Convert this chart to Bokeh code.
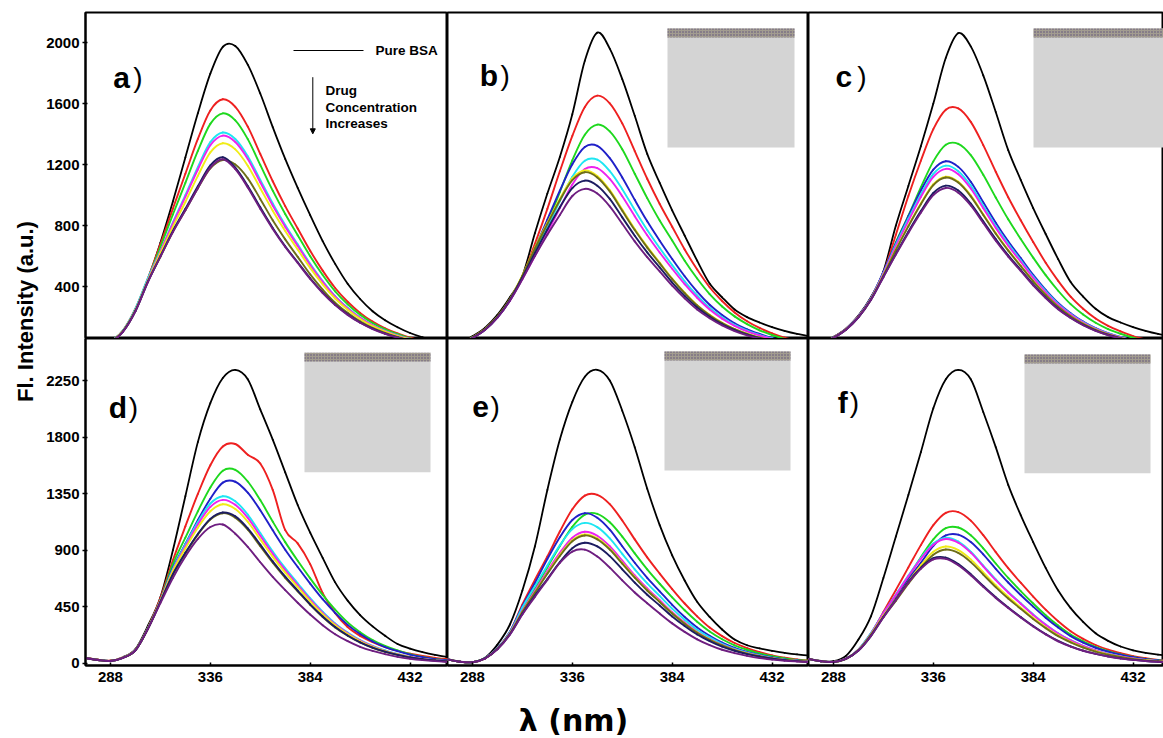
import math
from bokeh.plotting import figure
from bokeh.layouts import row, column
from bokeh.models import Range1d, Label, BoxAnnotation, Arrow, NormalHead, ColumnDataSource
from bokeh.embed import file_html
from bokeh.resources import INLINE

# ---------------- data ----------------
wavelengths = [276, 282, 288, 294, 300, 306, 312, 318, 324, 330, 336, 342, 348, 354, 360,
               366, 372, 378, 384, 390, 396, 402, 408, 414, 420, 426, 432, 438, 444, 450]

x_ticks = [288, 336, 384, 432]
top_y_ticks = [400, 800, 1200, 1600, 2000]
bottom_y_ticks = [0, 450, 900, 1350, 1800, 2250]

# panel a
a_black = [4, 14, 40, 110, 249, 449, 688, 958, 1247, 1536, 1796, 1972, 1978, 1855, 1666, 1446, 1237, 1047, 868, 698, 549, 419, 319, 239, 180, 134, 96, 68, 48, 34]
a_red = [4, 14, 40, 112, 255, 455, 678, 911, 1140, 1368, 1555, 1628, 1579, 1449, 1270, 1091, 928, 781, 635, 505, 391, 301, 228, 171, 127, 93, 65, 46, 33, 23]
a_green = [4, 14, 40, 110, 252, 450, 659, 873, 1080, 1290, 1467, 1536, 1490, 1367, 1198, 1029, 876, 737, 599, 476, 369, 284, 215, 161, 120, 88, 61, 43, 31, 22]
a_cyan = [4, 14, 41, 112, 256, 455, 633, 821, 1000, 1184, 1347, 1410, 1368, 1255, 1100, 945, 804, 677, 550, 437, 338, 261, 197, 148, 110, 80, 56, 39, 28, 20]
a_magenta = [4, 14, 39, 108, 247, 443, 629, 813, 988, 1168, 1327, 1390, 1348, 1237, 1084, 931, 792, 667, 542, 431, 334, 257, 195, 146, 108, 79, 56, 39, 28, 19]
a_yellow = [4, 14, 39, 108, 245, 440, 619, 792, 955, 1126, 1280, 1340, 1300, 1193, 1045, 898, 764, 643, 523, 415, 322, 248, 188, 141, 105, 76, 54, 38, 27, 19]
a_olive = [4, 14, 38, 106, 242, 435, 596, 760, 900, 1045, 1175, 1230, 1200, 1110, 975, 835, 710, 595, 480, 381, 295, 228, 172, 129, 96, 70, 49, 34, 25, 17]
a_navy = [4, 13, 38, 105, 240, 432, 600, 765, 910, 1058, 1195, 1248, 1180, 1060, 920, 785, 665, 560, 455, 362, 282, 218, 165, 124, 92, 67, 47, 33, 24, 17]
a_purple = [4, 13, 37, 104, 238, 430, 597, 757, 900, 1045, 1180, 1235, 1170, 1050, 910, 778, 660, 555, 450, 358, 279, 215, 163, 122, 91, 66, 46, 32, 23, 16]

# panel b
b_black = [10, 30, 75, 130, 215, 330, 470, 750, 1010, 1250, 1530, 1880, 2065, 1960, 1760, 1520, 1270, 1080, 900, 735, 570, 420, 330, 250, 200, 165, 135, 110, 90, 75]
b_red = [8, 26, 68, 122, 203, 315, 466, 680, 910, 1156, 1388, 1578, 1652, 1602, 1470, 1289, 1107, 942, 793, 644, 512, 396, 306, 231, 173, 129, 94, 66, 46, 33]
b_green = [8, 26, 67, 120, 200, 312, 455, 625, 815, 1020, 1228, 1396, 1462, 1418, 1301, 1140, 980, 833, 702, 570, 453, 351, 270, 205, 154, 114, 83, 58, 41, 29]
b_blue = [8, 25, 66, 119, 200, 312, 466, 650, 840, 1029, 1202, 1316, 1323, 1242, 1116, 969, 828, 701, 581, 468, 367, 281, 214, 160, 120, 90, 64, 45, 32, 23]
b_cyan = [8, 25, 66, 118, 198, 310, 455, 615, 785, 960, 1120, 1225, 1232, 1157, 1039, 902, 771, 653, 541, 435, 342, 261, 199, 149, 112, 83, 60, 42, 30, 21]
b_magenta = [8, 25, 65, 118, 197, 308, 450, 600, 755, 915, 1070, 1171, 1177, 1106, 993, 862, 737, 624, 517, 416, 327, 250, 190, 143, 107, 80, 57, 40, 29, 20]
b_yellow = [8, 25, 66, 120, 202, 318, 473, 655, 818, 975, 1109, 1161, 1126, 1033, 906, 778, 662, 557, 453, 360, 279, 215, 163, 122, 91, 66, 46, 33, 23, 16]
b_olive = [8, 25, 66, 120, 202, 318, 471, 650, 810, 966, 1098, 1150, 1116, 1024, 897, 771, 656, 552, 449, 357, 276, 213, 161, 121, 90, 66, 46, 32, 23, 16]
b_navy = [7, 24, 64, 117, 198, 312, 460, 620, 775, 920, 1046, 1095, 1062, 975, 854, 734, 624, 526, 427, 339, 263, 203, 153, 115, 85, 62, 44, 31, 22, 15]
b_purple = [7, 24, 63, 116, 196, 308, 449, 600, 740, 870, 994, 1041, 1010, 926, 812, 697, 593, 500, 406, 323, 250, 193, 146, 109, 81, 59, 42, 29, 21, 15]

# panel c
c_black = [10, 28, 70, 125, 210, 330, 500, 800, 1060, 1320, 1600, 1900, 2062, 1975, 1785, 1545, 1295, 1100, 915, 745, 580, 430, 335, 255, 200, 165, 135, 110, 90, 75]
c_red = [9, 27, 68, 122, 205, 322, 490, 740, 994, 1225, 1432, 1560, 1568, 1480, 1328, 1153, 986, 835, 692, 557, 438, 334, 255, 191, 143, 107, 76, 54, 38, 27]
c_green = [9, 27, 67, 121, 203, 318, 480, 690, 865, 1050, 1221, 1330, 1336, 1262, 1133, 984, 841, 712, 590, 475, 373, 285, 217, 163, 122, 91, 65, 46, 33, 23]
c_blue = [8, 26, 67, 122, 206, 325, 495, 685, 860, 1030, 1167, 1222, 1185, 1088, 953, 819, 697, 587, 477, 379, 293, 226, 171, 128, 95, 70, 49, 34, 24, 17]
c_cyan = [8, 26, 66, 121, 204, 322, 490, 675, 845, 1005, 1139, 1193, 1157, 1062, 931, 799, 680, 573, 465, 370, 286, 221, 167, 125, 93, 68, 48, 33, 24, 17]
c_magenta = [8, 26, 66, 120, 203, 320, 485, 665, 830, 988, 1119, 1172, 1137, 1043, 914, 785, 668, 563, 457, 363, 281, 217, 164, 123, 91, 67, 47, 33, 23, 16]
c_yellow = [8, 25, 65, 119, 201, 318, 475, 645, 800, 945, 1071, 1121, 1087, 998, 874, 751, 639, 538, 437, 348, 269, 207, 157, 118, 87, 64, 45, 31, 22, 16]
c_olive = [8, 25, 65, 119, 200, 316, 472, 640, 795, 940, 1065, 1115, 1082, 992, 870, 747, 636, 535, 435, 346, 268, 206, 156, 117, 87, 64, 45, 31, 22, 16]
c_navy = [8, 25, 64, 118, 199, 314, 465, 615, 760, 895, 1014, 1062, 1030, 945, 828, 712, 605, 510, 414, 329, 255, 196, 149, 112, 83, 61, 42, 30, 21, 15]
c_purple = [8, 25, 64, 117, 198, 312, 462, 610, 752, 884, 1000, 1047, 1016, 932, 817, 701, 597, 503, 408, 325, 251, 194, 147, 110, 82, 60, 42, 29, 21, 15]

# panel d
d_black = [45, 30, 22, 50, 115, 300, 527, 900, 1330, 1760, 2070, 2270, 2335, 2260, 2020, 1780, 1520, 1260, 1040, 840, 645, 500, 385, 295, 220, 155, 118, 90, 68, 52]
d_red = [45, 30, 22, 48, 110, 285, 520, 820, 1090, 1348, 1576, 1725, 1745, 1660, 1590, 1380, 1060, 955, 790, 560, 400, 290, 220, 170, 130, 100, 78, 60, 45, 35]
d_green = [44, 29, 21, 47, 108, 282, 505, 790, 1000, 1210, 1400, 1533, 1540, 1447, 1299, 1128, 965, 817, 677, 545, 428, 327, 249, 187, 140, 104, 75, 53, 37, 26]
d_blue = [44, 29, 21, 47, 107, 280, 500, 760, 950, 1140, 1310, 1438, 1445, 1358, 1219, 1059, 905, 767, 635, 511, 402, 307, 234, 175, 131, 98, 70, 50, 35, 25]
d_cyan = [43, 28, 20, 46, 106, 280, 500, 750, 945, 1125, 1272, 1330, 1290, 1184, 1037, 891, 758, 638, 519, 412, 319, 246, 186, 140, 104, 76, 53, 37, 27, 19]
d_magenta = [43, 28, 20, 46, 106, 279, 498, 740, 930, 1105, 1245, 1301, 1262, 1158, 1015, 872, 742, 624, 507, 403, 312, 241, 182, 137, 101, 74, 52, 36, 26, 18]
d_yellow = [43, 28, 20, 46, 105, 278, 495, 735, 915, 1080, 1210, 1266, 1228, 1127, 987, 848, 722, 608, 494, 392, 304, 234, 177, 133, 99, 72, 51, 35, 25, 18]
d_olive = [43, 28, 20, 45, 105, 276, 490, 705, 875, 1025, 1145, 1195, 1159, 1064, 932, 801, 681, 574, 466, 370, 287, 221, 167, 125, 93, 68, 48, 33, 24, 17]
d_navy = [43, 28, 20, 45, 104, 276, 490, 710, 880, 1030, 1150, 1200, 1170, 1075, 945, 812, 690, 580, 470, 374, 290, 223, 168, 126, 94, 69, 48, 34, 24, 17]
d_purple = [43, 28, 20, 45, 104, 275, 480, 680, 850, 990, 1085, 1105, 1032, 927, 805, 688, 583, 483, 389, 305, 233, 178, 133, 100, 74, 53, 38, 27, 19, 13]

# panel e
e_black = [35, 15, 10, 45, 150, 310, 580, 930, 1380, 1780, 2080, 2280, 2335, 2250, 2010, 1720, 1390, 1100, 860, 660, 490, 370, 270, 190, 145, 120, 100, 85, 72, 62]
e_red = [33, 14, 10, 40, 120, 250, 470, 665, 851, 1049, 1226, 1335, 1341, 1267, 1137, 987, 844, 715, 592, 477, 375, 286, 218, 163, 123, 91, 65, 46, 33, 23]
e_green = [33, 14, 10, 40, 118, 245, 425, 595, 765, 935, 1087, 1184, 1190, 1123, 1009, 876, 749, 634, 525, 423, 332, 254, 193, 145, 109, 81, 58, 41, 29, 21]
e_blue = [33, 14, 10, 42, 122, 252, 455, 640, 830, 1004, 1141, 1195, 1159, 1064, 932, 801, 681, 574, 466, 370, 287, 221, 167, 125, 93, 68, 48, 33, 24, 17]
e_cyan = [33, 14, 10, 42, 120, 248, 445, 615, 780, 939, 1068, 1118, 1084, 995, 872, 749, 637, 537, 436, 347, 268, 207, 157, 117, 87, 64, 45, 31, 22, 16]
e_magenta = [33, 14, 10, 41, 118, 242, 420, 578, 733, 879, 1000, 1047, 1016, 932, 817, 701, 597, 503, 408, 325, 251, 194, 147, 110, 82, 60, 42, 29, 21, 15]
e_yellow = [33, 14, 10, 40, 116, 238, 412, 565, 718, 862, 980, 1026, 995, 913, 800, 687, 585, 492, 400, 318, 246, 190, 144, 108, 80, 58, 41, 29, 21, 14]
e_olive = [33, 14, 10, 40, 116, 236, 410, 562, 713, 855, 972, 1018, 987, 906, 794, 682, 580, 489, 397, 316, 244, 188, 143, 107, 79, 58, 41, 29, 20, 14]
e_navy = [33, 14, 10, 40, 114, 232, 395, 540, 672, 806, 917, 960, 931, 854, 749, 643, 547, 461, 374, 298, 230, 178, 134, 101, 75, 55, 38, 27, 19, 13]
e_purple = [33, 14, 10, 39, 112, 228, 390, 530, 665, 800, 890, 905, 850, 762, 661, 565, 479, 397, 319, 251, 192, 146, 109, 82, 61, 44, 31, 22, 16, 11]

# panel f
f_black = [38, 20, 18, 60, 190, 375, 680, 1010, 1340, 1680, 2030, 2260, 2335, 2260, 2000, 1720, 1420, 1180, 965, 760, 580, 440, 330, 240, 180, 135, 105, 84, 70, 60]
f_red = [36, 18, 12, 38, 110, 230, 410, 585, 764, 941, 1100, 1198, 1204, 1136, 1020, 886, 758, 642, 532, 428, 336, 257, 196, 147, 110, 82, 59, 42, 29, 21]
f_green = [36, 18, 12, 37, 105, 220, 378, 527, 686, 845, 987, 1076, 1081, 1020, 916, 795, 680, 576, 477, 384, 302, 230, 176, 132, 99, 73, 53, 37, 26, 19]
f_blue = [36, 18, 12, 38, 110, 240, 400, 540, 670, 800, 935, 1018, 1024, 966, 868, 753, 644, 545, 452, 364, 286, 218, 166, 125, 94, 70, 50, 35, 25, 18]
f_cyan = [36, 18, 12, 38, 110, 240, 400, 549, 699, 839, 954, 999, 969, 889, 779, 669, 569, 480, 390, 310, 240, 185, 140, 105, 78, 57, 40, 28, 20, 14]
f_magenta = [36, 18, 12, 38, 108, 235, 400, 545, 693, 832, 945, 990, 960, 881, 772, 663, 564, 475, 386, 307, 238, 183, 139, 104, 77, 56, 40, 28, 20, 14]
f_yellow = [36, 18, 12, 37, 106, 230, 381, 512, 651, 781, 888, 930, 902, 828, 725, 623, 530, 446, 363, 288, 223, 172, 130, 98, 73, 53, 37, 26, 19, 13]
f_olive = [36, 18, 12, 37, 105, 228, 371, 498, 634, 761, 865, 906, 879, 806, 707, 607, 516, 435, 353, 281, 217, 168, 127, 95, 71, 52, 36, 25, 18, 13]
f_navy = [36, 18, 12, 36, 103, 220, 370, 510, 650, 760, 837, 842, 791, 710, 616, 527, 446, 370, 298, 234, 179, 136, 102, 77, 57, 41, 29, 20, 14, 10]
f_purple = [36, 18, 12, 36, 102, 218, 365, 505, 642, 752, 827, 832, 781, 701, 609, 521, 441, 365, 294, 231, 176, 134, 101, 76, 56, 40, 29, 20, 14, 10]

COLORS = {
    "black": "#000000", "red": "#ee2020", "green": "#1ed81e", "blue": "#2020c8",
    "cyan": "#1ee6f2", "magenta": "#ee22ee", "yellow": "#f0ec18", "olive": "#6e6e18",
    "navy": "#1c1c60", "purple": "#6e1e80",
}

panel_series = {
    "a": [("black", a_black), ("red", a_red), ("green", a_green), ("cyan", a_cyan), ("magenta", a_magenta),
          ("yellow", a_yellow), ("olive", a_olive), ("navy", a_navy), ("purple", a_purple)],
    "b": [("black", b_black), ("red", b_red), ("green", b_green), ("blue", b_blue), ("cyan", b_cyan),
          ("magenta", b_magenta), ("yellow", b_yellow), ("olive", b_olive), ("navy", b_navy), ("purple", b_purple)],
    "c": [("black", c_black), ("red", c_red), ("green", c_green), ("blue", c_blue), ("cyan", c_cyan),
          ("magenta", c_magenta), ("yellow", c_yellow), ("olive", c_olive), ("navy", c_navy), ("purple", c_purple)],
    "d": [("black", d_black), ("red", d_red), ("green", d_green), ("blue", d_blue), ("cyan", d_cyan),
          ("magenta", d_magenta), ("yellow", d_yellow), ("olive", d_olive), ("navy", d_navy), ("purple", d_purple)],
    "e": [("black", e_black), ("red", e_red), ("green", e_green), ("blue", e_blue), ("cyan", e_cyan),
          ("magenta", e_magenta), ("yellow", e_yellow), ("olive", e_olive), ("navy", e_navy), ("purple", e_purple)],
    "f": [("black", f_black), ("red", f_red), ("green", f_green), ("blue", f_blue), ("cyan", f_cyan),
          ("magenta", f_magenta), ("yellow", f_yellow), ("olive", f_olive), ("navy", f_navy), ("purple", f_purple)],
}

# ---------------- layout constants ----------------
PX_PER_NM = 2.0805
X0 = 276
TOP_Y = (60, 2197)
BOT_Y = (-16, 2584)
FONT = "Liberation Sans"
BOTTOM_BORDER = 36


def smooth_segments(xs, ys):
    """Catmull-Rom segments expressed as cubic Bezier pieces that pass through every data point."""
    n = len(xs)
    out = {k: [] for k in ("x0", "y0", "x1", "y1", "cx0", "cy0", "cx1", "cy1")}
    for i in range(n - 1):
        i0, i3 = max(i - 1, 0), min(i + 2, n - 1)
        out["x0"].append(xs[i]); out["y0"].append(ys[i])
        out["x1"].append(xs[i + 1]); out["y1"].append(ys[i + 1])
        out["cx0"].append(xs[i] + (xs[i + 1] - xs[i0]) / 6.0)
        out["cy0"].append(ys[i] + (ys[i + 1] - ys[i0]) / 6.0)
        out["cx1"].append(xs[i + 1] - (xs[i3] - xs[i]) / 6.0)
        out["cy1"].append(ys[i + 1] - (ys[i3] - ys[i]) / 6.0)
    return ColumnDataSource(out)


def make_panel(key, fw, fh, yr, left_axis, bottom_axis, yticks, btop, bbottom, bleft):
    x_end = X0 + fw / PX_PER_NM
    p = figure(frame_width=fw, frame_height=fh, x_range=Range1d(X0, x_end), y_range=Range1d(*yr),
               output_backend="svg", toolbar_location=None, title=None,
               x_axis_location="below" if bottom_axis else None,
               y_axis_location="left" if left_axis else None,
               min_border_left=bleft, min_border_right=0, min_border_top=btop, min_border_bottom=bbottom)
    p.grid.visible = False
    p.outline_line_color = "black"
    p.outline_line_width = 2
    p.background_fill_color = "white"
    p.border_fill_color = "white"
    if left_axis:
        ax = p.yaxis[0]
        ax.ticker = yticks
        ax.major_tick_in = 2
        ax.major_tick_out = 3
        ax.major_label_standoff = 3
    if bottom_axis:
        ax = p.xaxis[0]
        ax.ticker = x_ticks
        ax.major_tick_in = 3
        ax.major_tick_out = 0
        ax.major_label_standoff = 6
    for ax in p.axis:
        ax.minor_tick_line_color = None
        ax.axis_line_width = 2
        ax.major_tick_line_width = 1.5
        ax.major_label_text_font = FONT
        ax.major_label_text_font_style = "bold"
        ax.major_label_text_font_size = "15px"
        ax.major_label_text_color = "black"

    for name, vals in panel_series[key]:
        src = smooth_segments(wavelengths, vals)
        p.bezier(x0="x0", y0="y0", x1="x1", y1="y1", cx0="cx0", cy0="cy0", cx1="cx1", cy1="cy1",
                 source=src, line_color=COLORS[name], line_width=1.9 if name != "black" else 1.8,
                 line_cap="round")

    def fx(dx):
        return X0 + dx / PX_PER_NM

    def fy(dy):
        return yr[1] - dy * (yr[1] - yr[0]) / fh

    p._fx = fx
    p._fy = fy
    return p


pa = make_panel("a", 362, 326, TOP_Y, True, False, top_y_ticks, 12, 0, 43)
pb = make_panel("b", 361, 326, TOP_Y, False, False, None, 12, 0, 0)
pc = make_panel("c", 355, 326, TOP_Y, False, False, None, 12, 0, 0)
pd = make_panel("d", 362, 327, BOT_Y, True, True, bottom_y_ticks, 0, BOTTOM_BORDER, 43)
pe = make_panel("e", 361, 327, BOT_Y, False, True, None, 0, BOTTOM_BORDER, 0)
pf = make_panel("f", 355, 327, BOT_Y, False, True, None, 0, BOTTOM_BORDER, 0)

# panel letters: (panel, letter, dx letter, dx paren, dy baseline) in frame pixels
letters = [(pa, "a", 27.7, 47.7, 65.3), (pb, "b", 32.3, 53, 63), (pc, "c", 27, 48.7, 64),
           (pd, "d", 23.3, 43.3, 69.3), (pe, "e", 24.7, 43, 68), (pf, "f", 29.3, 41.3, 63.7)]
for p, t, dxl, dxp, dyb in letters:
    p.add_layout(Label(x=p._fx(dxl), y=p._fy(dyb), text=t, text_font=FONT, text_font_style="bold",
                       text_font_size="30px", text_align="left", text_baseline="alphabetic", text_color="black"))
    p.add_layout(Label(x=p._fx(dxp), y=p._fy(dyb), text=")", text_font=FONT, text_font_style="normal",
                       text_font_size="28px", text_align="left", text_baseline="alphabetic", text_color="black"))

# grey inset boxes (frame pixels: left, right, top, bottom, strip bottom)
insets = [(pb, 220, 347, 16, 135, 25), (pc, 225, 356, 16, 135, 25), (pd, 219, 345, 14.3, 133.7, 23),
          (pe, 217, 343, 13, 132, 22), (pf, 216, 342, 16, 134.7, 25)]
for p, l, r, t, b, sb in insets:
    p.add_layout(BoxAnnotation(left=p._fx(l), right=p._fx(r), top=p._fy(t), bottom=p._fy(b),
                               fill_color="#d4d4d4", fill_alpha=1.0, line_color=None))
    p.add_layout(BoxAnnotation(left=p._fx(l), right=p._fx(r), top=p._fy(t), bottom=p._fy(sb),
                               fill_color="#a29c90", fill_alpha=1.0, line_color=None,
                               hatch_pattern="dot", hatch_color="#5c4c7c", hatch_scale=3, hatch_weight=1))

# panel a annotation
pa.add_layout(Arrow(end=None, x_start=pa._fx(208), y_start=pa._fy(38), x_end=pa._fx(278), y_end=pa._fy(38),
                    line_color="black", line_width=1))
pa.add_layout(Arrow(end=NormalHead(size=5, fill_color="black", line_color="black"),
                    x_start=pa._fx(227.3), y_start=pa._fy(64.7), x_end=pa._fx(227.3), y_end=pa._fy(121.3),
                    line_color="black", line_width=1))
for txt, dx, dy in [("Pure BSA", 290, 38), ("Drug", 240, 77.5), ("Concentration", 240, 94.5), ("Increases", 240, 111.3)]:
    pa.add_layout(Label(x=pa._fx(dx), y=pa._fy(dy), text=txt, text_font=FONT, text_font_style="bold",
                        text_font_size="13.5px", text_align="left", text_baseline="middle", text_color="black"))


def blank(w, h):
    q = figure(width=w, height=h, x_range=Range1d(0, w), y_range=Range1d(0, h), output_backend="svg",
               toolbar_location=None, title=None, x_axis_location=None, y_axis_location=None, min_border=0)
    q.grid.visible = False
    q.outline_line_color = None
    return q


GRID_H = 12 + 326 + 327 + BOTTOM_BORDER
ylab = blank(42, GRID_H)
ylab.add_layout(Label(x=25, y=GRID_H - 311, text="Fl. Intensity (a.u.)", angle=math.pi / 2, text_align="center",
                      text_baseline="middle", text_font=FONT, text_font_style="bold", text_font_size="22px",
                      text_color="black"))
XLAB_H = 738 - GRID_H
xlab = blank(1163, XLAB_H)
xlab.add_layout(Label(x=573, y=XLAB_H / 2.0, text="λ (nm)", text_align="center", text_baseline="middle",
                      text_font="DejaVu Sans", text_font_style="bold", text_font_size="30px", text_color="black"))

grid = column(row(pa, pb, pc, spacing=0), row(pd, pe, pf, spacing=0), spacing=0)
layout = column(row(ylab, grid, spacing=0), xlab, spacing=0)

open("out.html", "w").write(file_html(layout, INLINE))
